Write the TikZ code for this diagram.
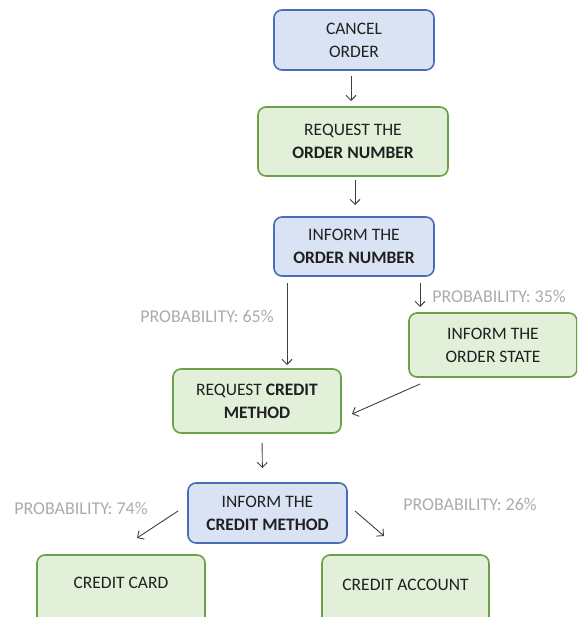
\documentclass[tikz,border=0pt]{standalone}
\usepackage{fontspec}
\setmainfont{Carlito}
\usetikzlibrary{arrows.meta}
\definecolor{bfill}{HTML}{DAE3F3}
\definecolor{bdraw}{HTML}{4A6DB5}
\definecolor{gfill}{HTML}{E2F0D9}
\definecolor{gdraw}{HTML}{6AA147}
\definecolor{lblgray}{HTML}{ABABAB}
\definecolor{txt}{HTML}{202020}
\definecolor{arrgray}{HTML}{404040}
\tikzset{
  box/.style={rectangle, rounded corners=8pt, line width=1.6pt, align=center,
    text=txt, font=\fontsize{17.5}{23}\selectfont, inner sep=0pt, outer sep=0pt},
  bluebox/.style={box, fill=bfill, draw=bdraw},
  greenbox/.style={box, fill=gfill, draw=gdraw},
  lbl/.style={text=lblgray, font=\fontsize{18}{23}\selectfont, inner sep=0pt},
  arr/.style={draw=arrgray, line width=0.9pt, -{Straight Barb[length=5pt,width=10pt]}}
}
\begin{document}
\begin{tikzpicture}[x=1pt,y=-1pt]
\useasboundingbox (0,0) rectangle (577,617);
\clip (0,0) rectangle (577,617);
\node[bluebox, minimum width=160pt, minimum height=60pt] (cancel) at (354,40) {CANCEL\\ORDER};
\node[greenbox, minimum width=190pt, minimum height=69pt] (req1) at (353,141.5) {REQUEST THE\\\textbf{ORDER NUMBER}};
\node[bluebox, minimum width=160pt, minimum height=59pt] (inf1) at (354,246.5) {INFORM THE\\\textbf{ORDER NUMBER}};
\node[greenbox, minimum width=168pt, minimum height=64pt] (state) at (493,345) {INFORM THE\\ORDER STATE};
\node[greenbox, minimum width=168pt, minimum height=64pt] (reqcm) at (257,401) {REQUEST \textbf{CREDIT}\\\textbf{METHOD}};
\node[bluebox, minimum width=159pt, minimum height=60pt] (inf2) at (267.5,513) {INFORM THE\\\textbf{CREDIT METHOD}};
\node[greenbox, minimum width=168pt, minimum height=80pt] (card) at (121,595) {};
\node[greenbox, minimum width=167pt, minimum height=80pt] (account) at (405.5,595) {};
\node[text=txt, font=\fontsize{17.5}{23}\selectfont, inner sep=0pt] (cardt) at (121,583) {CREDIT CARD};
\node[text=txt, font=\fontsize{17.5}{23}\selectfont, inner sep=0pt] (accountt) at (405.5,585) {CREDIT ACCOUNT};
\node[lbl] (p65) at (207,316) {PROBABILITY: 65\%};
\node[lbl] (p35) at (499,296) {PROBABILITY: 35\%};
\node[lbl] (p74) at (81,508) {PROBABILITY: 74\%};
\node[lbl] (p26) at (470,504) {PROBABILITY: 26\%};
\draw[arr, shorten <=6pt, shorten >=6pt] ([xshift=-3pt]cancel.south) -- ([xshift=-2pt]req1.north);
\draw[arr, shorten <=4pt, shorten >=12pt] ([xshift=2pt]req1.south) -- ([xshift=1pt]inf1.north);
\draw[arr, shorten <=7pt, shorten >=4pt] ([xshift=-67pt]inf1.south) -- ([xshift=30pt]reqcm.north);
\draw[arr, shorten <=7pt, shorten >=6pt] ([xshift=66pt]inf1.south) -- ([xshift=-73pt]state.north);
\draw[arr] ([xshift=-73pt,yshift=-7pt]state.south) -- ([xshift=11pt,yshift=-13pt]reqcm.east);
\draw[arr, shorten <=10pt, shorten >=15pt] ([xshift=5pt]reqcm.south) -- ([xshift=-5pt]inf2.north);
\draw[arr] ([xshift=-10pt,yshift=2pt]inf2.west) -- ([xshift=16pt,yshift=17pt]card.north);
\draw[arr] ([xshift=8pt,yshift=2pt]inf2.east) -- ([xshift=-21.5pt,yshift=19pt]account.north);
\end{tikzpicture}
\end{document}
